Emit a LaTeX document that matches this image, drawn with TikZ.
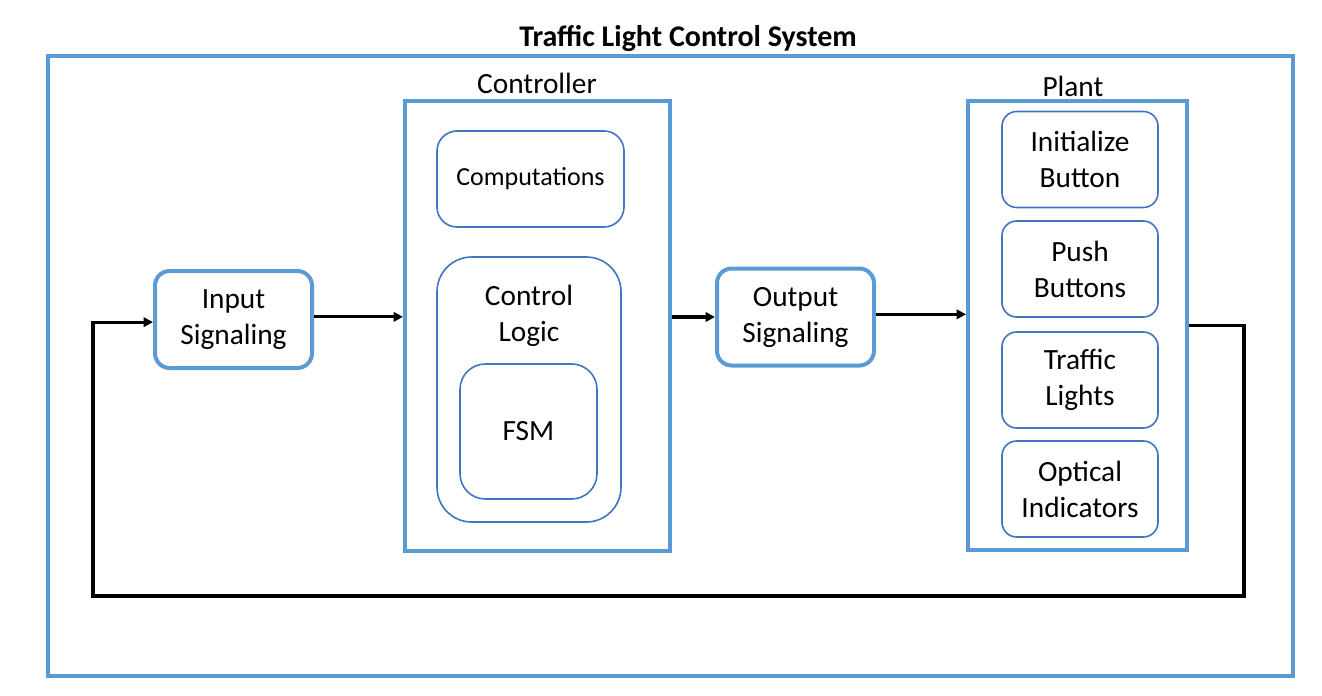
\documentclass[tikz,border=0pt]{standalone}
\usepackage{fontspec}
\setmainfont{Carlito}
\usetikzlibrary{arrows.meta}
\definecolor{frameblue}{HTML}{5B9BD5}
\definecolor{boxblue}{HTML}{4472C4}
\tikzset{
  frame/.style={draw=frameblue,line width=3pt},
  sigbox/.style={draw=frameblue,line width=3pt,rounded corners=11pt,align=center,
    minimum width=117.75pt,minimum height=72.75pt,font=\fontsize{22}{27}\selectfont},
  subbox/.style={draw=boxblue,line width=1.2pt,align=center,
    font=\fontsize{22}{27}\selectfont},
  flow/.style={line width=2.4pt,-{Triangle[length=7pt,width=7pt]}},
}
\begin{document}
\begin{tikzpicture}[x=0.75pt,y=-0.75pt]
\useasboundingbox (0,0) rectangle (1322,696);
% outer frame and title
\node[frame,minimum width=933.75pt,minimum height=465pt] (sys) at (670.5,366) {};
\node[font=\bfseries\fontsize{22.5}{27}\selectfont] (title) at (688,38) {Traffic Light Control System};

% controller
\node[frame,minimum width=198.75pt,minimum height=337.5pt] (ctrl) at (537.5,326) {};
\node[font=\fontsize{22}{27}\selectfont] (ctrllbl) at (537,83) {Controller};
\node[subbox,rounded corners=15pt,minimum width=140.25pt,minimum height=72pt,
  font=\fontsize{19.5}{24}\selectfont] (comp) at (530.5,179) {Computations};
\node[subbox,rounded corners=26pt,minimum width=138pt,minimum height=198.75pt] (logic) at (529,389.5) {};
\node[align=center,font=\fontsize{22}{27}\selectfont] (logiclbl) at (529,316) {Control\\Logic};
\node[subbox,rounded corners=19pt,minimum width=102.75pt,minimum height=101.25pt] (fsm) at (528.5,431.5) {\raisebox{-2pt}{FSM}};

% signaling
\node[sigbox] (insig) at (233.5,319.5) {Input\\Signaling};
\node[sigbox] (outsig) at (795.5,317) {Output\\Signaling};

% plant
\node[frame,minimum width=164.25pt,minimum height=336.75pt] (plant) at (1077.5,325.5) {};
\node[font=\fontsize{22}{27}\selectfont] (plantlbl) at (1073,86) {Plant};
\foreach \name/\txt/\y in {init/Initialize\\Button/159.5, push/Push\\Buttons/269,
    lights/Traffic\\Lights/380, optic/Optical\\Indicators/489}
  \node[subbox,rounded corners=11pt,minimum width=117pt,minimum height=72pt] (\name) at (1080,\y) {\txt};

% connectors
\coordinate (fbright) at (1244,596);
\coordinate (fbleft) at (93,596);
\draw[flow] ([yshift=2pt]insig.east) -- ([yshift=2pt]insig.east -| ctrl.west);
\draw[flow] (ctrl.east |- outsig.west) -- (outsig.west);
\draw[flow] ([yshift=2pt]outsig.east) -- ([yshift=2pt]outsig.east -| plant.west);
\draw[flow] (plant.east) -| (fbright) -- (fbleft) |- ([yshift=-2pt]insig.west);
\end{tikzpicture}
\end{document}
